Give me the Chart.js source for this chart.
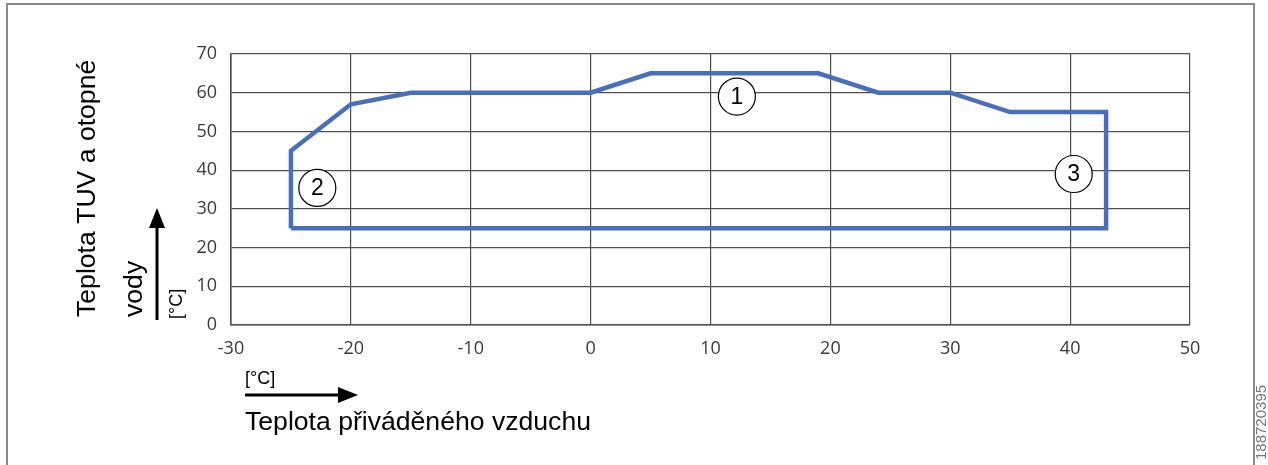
<!DOCTYPE html>
<html>
<head>
<meta charset="utf-8">
<script src="https://cdn.jsdelivr.net/npm/chart.js@4/dist/chart.umd.min.js"></script>
<style>
  html, body { margin: 0; padding: 0; background: #fff; }
  #wrap { width: 1268px; height: 465px; }
</style>
</head>
<body>
<div id="wrap"><canvas id="envelopeChart" width="1268" height="465"></canvas></div>
<script>
// operating envelope outline (air temp, water temp)
const airTemp   = [-25, -25, -20, -15, 0, 5, 19, 24, 30, 35, 43, 43, -25];
const waterTemp = [25, 45, 57, 60, 60, 65, 65, 60, 60, 55, 55, 25, 25];

// numbered markers
const markerX = [12.2, -22.8, 40.3];
const markerY = [59, 35.4, 39];
const markerText = ['1', '2', '3'];

const xTicks = [-30, -20, -10, 0, 10, 20, 30, 40, 50];
const yTicks = [0, 10, 20, 30, 40, 50, 60, 70];

const gridColor = '#4f4f4f';

function arrow(ctx, x1, y1, x2, y2) {
  const ang = Math.atan2(y2 - y1, x2 - x1);
  const len = 20, half = 8;
  ctx.beginPath();
  ctx.moveTo(x1, y1);
  ctx.lineTo(x2 - len * Math.cos(ang), y2 - len * Math.sin(ang));
  ctx.lineWidth = 3;
  ctx.strokeStyle = '#000';
  ctx.stroke();
  ctx.beginPath();
  ctx.moveTo(x2, y2);
  ctx.lineTo(x2 - len * Math.cos(ang) - half * Math.sin(ang), y2 - len * Math.sin(ang) + half * Math.cos(ang));
  ctx.lineTo(x2 - len * Math.cos(ang) + half * Math.sin(ang), y2 - len * Math.sin(ang) - half * Math.cos(ang));
  ctx.closePath();
  ctx.fillStyle = '#000';
  ctx.fill();
}

const decorations = {
  id: 'decorations',
  beforeDraw(chart) {
    const ctx = chart.ctx;
    ctx.save();
    ctx.fillStyle = '#fff';
    ctx.fillRect(0, 0, chart.width, chart.height);
    // outer frame
    ctx.strokeStyle = '#8a8a8a';
    ctx.lineWidth = 2;
    ctx.beginPath();
    ctx.moveTo(7, 465);
    ctx.lineTo(7, 4);
    ctx.lineTo(1254, 4);
    ctx.lineTo(1254, 465);
    ctx.stroke();
    ctx.restore();
  },
  afterDraw(chart) {
    const ctx = chart.ctx;
    const xs = chart.scales.x, ys = chart.scales.y;
    ctx.save();

    // numbered circles
    ctx.font = '23px "Liberation Sans", Arial, sans-serif';
    ctx.textAlign = 'center';
    ctx.textBaseline = 'middle';
    for (let i = 0; i < markerText.length; i++) {
      const px = xs.getPixelForValue(markerX[i]);
      const py = ys.getPixelForValue(markerY[i]);
      ctx.beginPath();
      ctx.arc(px, py, 18.5, 0, Math.PI * 2);
      ctx.fillStyle = '#fff';
      ctx.fill();
      ctx.lineWidth = 1.2;
      ctx.strokeStyle = '#000';
      ctx.stroke();
      ctx.fillStyle = '#000';
      ctx.fillText(markerText[i], px, py + 1);
    }

    // x axis title
    ctx.textAlign = 'left';
    ctx.textBaseline = 'alphabetic';
    ctx.fillStyle = '#000';
    ctx.font = '18px "Liberation Sans", Arial, sans-serif';
    ctx.fillText('[°C]', 245, 384);
    arrow(ctx, 245, 395, 358, 395);
    ctx.font = '26.6px "Liberation Sans", Arial, sans-serif';
    ctx.fillText('Teplota přiváděného vzduchu', 245, 430);

    // y axis title (rotated)
    ctx.save();
    ctx.translate(95, 317);
    ctx.rotate(-Math.PI / 2);
    ctx.font = '26.6px "Liberation Sans", Arial, sans-serif';
    ctx.fillText('Teplota TUV a otopné', 0, 0);
    ctx.restore();

    ctx.save();
    ctx.translate(142, 317);
    ctx.rotate(-Math.PI / 2);
    ctx.font = '26.6px "Liberation Sans", Arial, sans-serif';
    ctx.fillText('vody', 0, 0);
    ctx.restore();

    ctx.save();
    ctx.translate(182, 319);
    ctx.rotate(-Math.PI / 2);
    ctx.font = '18px "Liberation Sans", Arial, sans-serif';
    ctx.fillText('[°C]', 0, 0);
    ctx.restore();

    arrow(ctx, 157, 320, 157, 208);

    // drawing code
    ctx.save();
    ctx.translate(1266, 460);
    ctx.rotate(-Math.PI / 2);
    ctx.font = '15px "Liberation Sans Narrow", "Liberation Sans", Arial, sans-serif';
    ctx.fillStyle = '#777';
    ctx.fillText('188720395', 0, 0);
    ctx.restore();

    ctx.restore();
  }
};

const ctx = document.getElementById('envelopeChart');

new Chart(ctx, {
  type: 'scatter',
  data: {
    datasets: [{
      data: airTemp.map((x, i) => ({ x: x, y: waterTemp[i] })),
      showLine: true,
      borderColor: '#4a6fba',
      borderWidth: 4.5,
      borderJoinStyle: 'miter',
      pointRadius: 0,
      pointHoverRadius: 0,
      tension: 0,
      fill: false
    }]
  },
  options: {
    responsive: false,
    animation: false,
    devicePixelRatio: 1,
    layout: {
      padding: { left: 171, right: 78, top: 54, bottom: 100 }
    },
    plugins: {
      legend: { display: false },
      title: { display: false },
      tooltip: { enabled: false }
    },
    scales: {
      x: {
        type: 'linear',
        min: -30,
        max: 50,
        afterBuildTicks: (scale) => { scale.ticks = xTicks.map(v => ({ value: v })); },
        afterFit: (scale) => { scale.height = 40; },
        ticks: {
          padding: 13,
          color: '#3a3a3a',
          font: { family: '"Open Sans", sans-serif', size: 18 }
        },
        grid: { color: gridColor, lineWidth: 1.2, drawTicks: false },
        border: { color: gridColor, width: 1.6 }
      },
      y: {
        type: 'linear',
        min: 0,
        max: 70,
        afterBuildTicks: (scale) => { scale.ticks = yTicks.map(v => ({ value: v })); },
        afterFit: (scale) => { scale.width = 60; },
        ticks: {
          padding: 14,
          color: '#3a3a3a',
          font: { family: '"Open Sans", sans-serif', size: 18 }
        },
        grid: { color: gridColor, lineWidth: 1.2, drawTicks: false },
        border: { color: gridColor, width: 1.6 }
      }
    }
  },
  plugins: [decorations]
});
</script>
</body>
</html>
